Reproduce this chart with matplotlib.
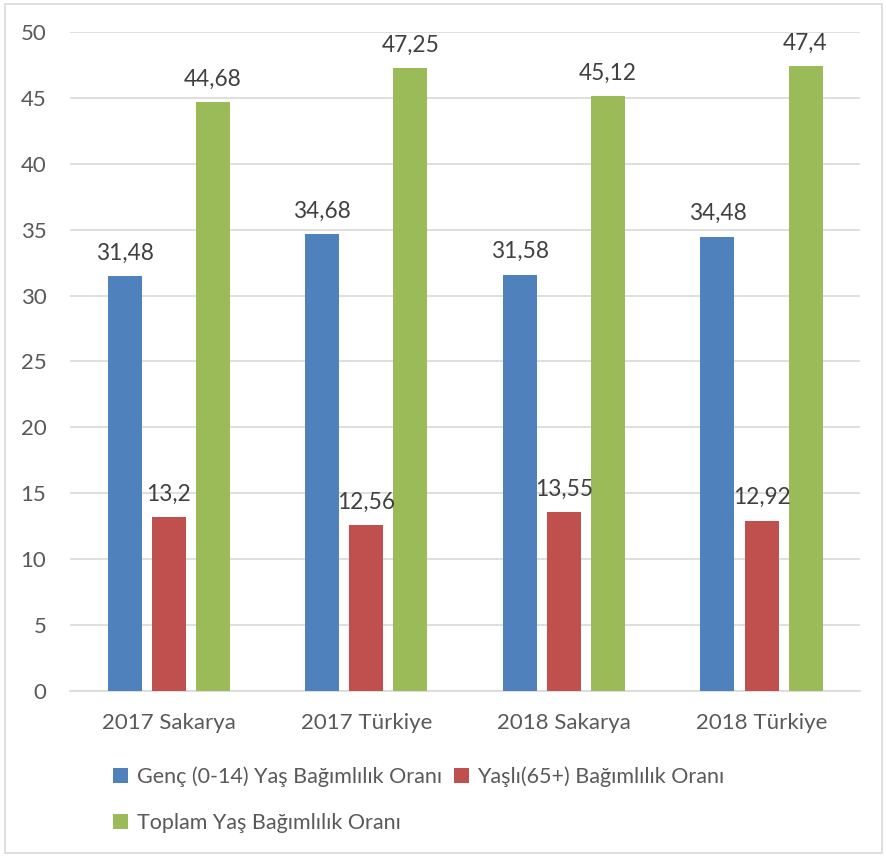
import matplotlib
matplotlib.use("Agg")
import matplotlib.pyplot as plt
import numpy as np
from matplotlib.patches import Rectangle

categories = ["2017 Sakarya", "2017 Türkiye", "2018 Sakarya", "2018 Türkiye"]
genc = [31.48, 34.68, 31.58, 34.48]
yasli = [13.2, 12.56, 13.55, 12.92]
toplam = [44.68, 47.25, 45.12, 47.4]
genc_lbl = ["31,48", "34,68", "31,58", "34,48"]
yasli_lbl = ["13,2", "12,56", "13,55", "12,92"]
toplam_lbl = ["44,68", "47,25", "45,12", "47,4"]
series_names = ["Genç (0-14) Yaş Bağımlılık Oranı",
                "Yaşlı(65+) Bağımlılık Oranı",
                "Toplam Yaş Bağımlılık Oranı"]
colors = ["#4F81BD", "#C0504D", "#9BBB59"]
text_col = "#595959"

plt.rcParams["font.family"] = ["Lato", "DejaVu Sans"]

fig = plt.figure(figsize=(8.86, 8.57), dpi=100)
ax = fig.add_axes([0.079, 0.1937, 0.892, 0.769])

x = np.arange(len(categories))
w = 0.172
step = 0.223
handles = []
for i, (vals, lbls) in enumerate([(genc, genc_lbl), (yasli, yasli_lbl), (toplam, toplam_lbl)]):
    pos = x + (i - 1) * step
    b = ax.bar(pos, vals, width=w, color=colors[i], label=series_names[i], zorder=3)
    handles.append(b)
    for p, v, t in zip(pos, vals, lbls):
        ax.annotate(t, (p, v), xytext=(0, 9), textcoords="offset points",
                    ha="center", va="bottom", fontsize=16.3, color="#404040",
                    zorder=5)

ax.set_xlim(-0.5, 3.5)
ax.set_ylim(0, 50)
ax.set_yticks(range(0, 51, 5))
ax.set_xticks(x)
ax.set_xticklabels(categories)
ax.tick_params(axis="both", length=0, labelsize=16, colors=text_col)
ax.tick_params(axis="y", pad=17)
ax.tick_params(axis="x", pad=16)
ax.grid(axis="y", color="#D9D9D9", linewidth=1.2, zorder=0)
for s in ["top", "right", "left"]:
    ax.spines[s].set_visible(False)
ax.spines["bottom"].set_color("#D9D9D9")
ax.spines["bottom"].set_linewidth(1.2)

leg = fig.legend([handles[0], handles[2], handles[1]],
                 [series_names[0], series_names[2], series_names[1]],
                 ncol=2, loc="upper left", bbox_to_anchor=(0.1275, 0.106),
                 frameon=False, fontsize=15.5, handlelength=0.7, handleheight=0.7,
                 handletextpad=0.4, columnspacing=0.55, labelspacing=1.2,
                 borderaxespad=0, borderpad=0)
for t in leg.get_texts():
    t.set_color(text_col)

fig.patches.append(Rectangle((5 / 886, 4 / 857), 877 / 886, 849 / 857,
                             transform=fig.transFigure, fill=False,
                             edgecolor="#D9D9D9", linewidth=1.2))

fig.savefig("out.png", dpi=100, facecolor="white")
